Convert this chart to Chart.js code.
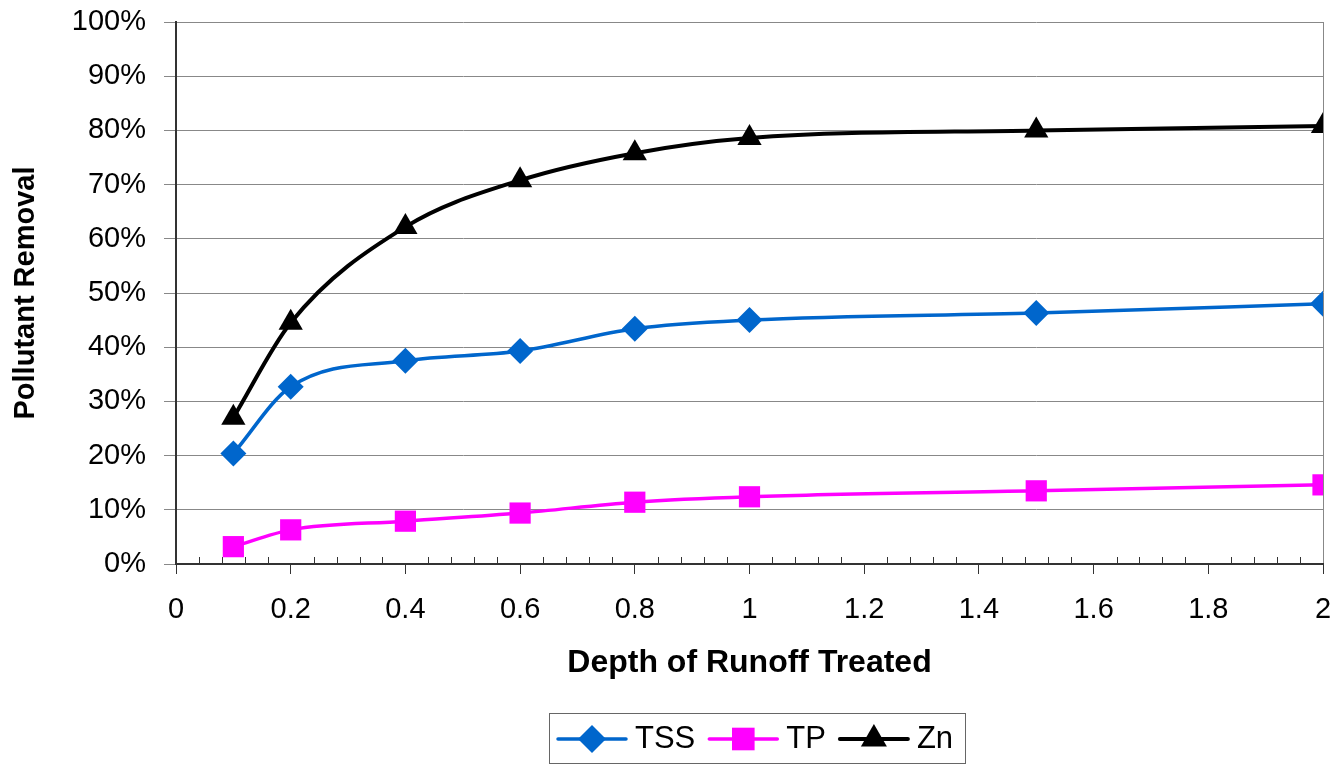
<!DOCTYPE html>
<html>
<head>
<meta charset="utf-8">
<script src="https://cdn.jsdelivr.net/npm/chart.js@4.4.1/dist/chart.umd.min.js"></script>
<style>
  html, body { margin: 0; padding: 0; background: #fff; }
  #wrap { width: 1344px; height: 768px; }
</style>
</head>
<body>
<div id="wrap"><canvas id="chart" width="1344" height="768"></canvas></div>
<script>
// depth of runoff treated (inches) and % removal per pollutant
const depths = [0.1, 0.2, 0.4, 0.6, 0.8, 1.0, 1.5, 2.0];
const tss = [20.4, 32.7, 37.5, 39.3, 43.4, 45.0, 46.3, 48.0];
const tp = [3.2, 6.3, 7.9, 9.4, 11.4, 12.4, 13.5, 14.6];
const zn = [27.0, 44.5, 62.2, 70.8, 75.8, 78.6, 80.0, 80.8];

const seriesNames = ['TSS', 'TP', 'Zn'];
const xTitle = 'Depth of Runoff Treated';
const yTitle = 'Pollutant Removal';

const FONT = '"Liberation Sans", Arial, sans-serif';

function toPoints(values) {
  return depths.map((d, i) => ({ x: d, y: values[i] }));
}

function makeSet(label, values, color, style, radius, width) {
  return {
    label,
    data: toPoints(values),
    borderColor: color,
    backgroundColor: color,
    borderWidth: width,
    pointStyle: style,
    pointRadius: radius,
    pointHoverRadius: radius,
    pointBorderWidth: 0,
    cubicInterpolationMode: 'monotone',
  };
}

function drawMarker(ctx, style, radius, x, y, color) {
  ctx.save();
  ctx.fillStyle = color;
  ctx.beginPath();
  if (style === 'rectRot') {
    ctx.moveTo(x - radius, y);
    ctx.lineTo(x, y - radius);
    ctx.lineTo(x + radius, y);
    ctx.lineTo(x, y + radius);
  } else if (style === 'rect') {
    const s = radius * Math.SQRT1_2;
    ctx.rect(x - s, y - s, 2 * s, 2 * s);
  } else {
    const h = radius * Math.sqrt(3) / 2;
    ctx.moveTo(x, y - radius);
    ctx.lineTo(x + h, y + radius / 2);
    ctx.lineTo(x - h, y + radius / 2);
  }
  ctx.closePath();
  ctx.fill();
  ctx.restore();
}

// small inside ticks between the labelled ones on the x axis
const minorTicks = {
  id: 'minorTicks',
  beforeDatasetsDraw(chart) {
    const { ctx, chartArea, scales: { x } } = chart;
    ctx.save();
    ctx.strokeStyle = '#333';
    ctx.lineWidth = 1;
    for (let i = 1; i < 50; i++) {
      if (i % 5 === 0) continue;
      const px = Math.round(x.getPixelForValue(i * 0.04)) + 0.5;
      ctx.beginPath();
      ctx.moveTo(px, chartArea.bottom);
      ctx.lineTo(px, chartArea.bottom - 7);
      ctx.stroke();
    }
    ctx.restore();
  }
};

// boxed legend with a line sample through each marker
const boxLegend = {
  id: 'boxLegend',
  afterDraw(chart) {
    const { ctx } = chart;
    const sets = chart.data.datasets;
    ctx.save();
    ctx.font = '31px ' + FONT;
    const lineLen = 68, gap = 9, after = 14, padL = 9, padR = 12;
    let total = padL + padR;
    sets.forEach((ds, i) => {
      total += lineLen + gap + ctx.measureText(ds.label).width + (i < sets.length - 1 ? after : 0);
    });
    const cx = chart.width / 2 + 85;
    const top = 713, bottom = 763;
    const left = Math.round(cx - total / 2);
    const midY = (top + bottom) / 2 + 1;
    ctx.strokeStyle = '#666';
    ctx.lineWidth = 1;
    ctx.strokeRect(left + 0.5, top + 0.5, Math.round(total), bottom - top);
    let xPos = left + padL;
    sets.forEach((ds, i) => {
      ctx.strokeStyle = ds.borderColor;
      ctx.lineWidth = ds.borderWidth;
      ctx.lineCap = 'round';
      ctx.beginPath();
      ctx.moveTo(xPos, midY);
      ctx.lineTo(xPos + lineLen, midY);
      ctx.stroke();
      drawMarker(ctx, ds.pointStyle, ds.pointRadius + 1, xPos + lineLen / 2, midY, ds.backgroundColor);
      xPos += lineLen + gap;
      ctx.fillStyle = '#000';
      ctx.textBaseline = 'middle';
      ctx.textAlign = 'left';
      ctx.fillText(ds.label, xPos, midY);
      xPos += ctx.measureText(ds.label).width + after;
    });
    ctx.restore();
  }
};

new Chart(document.getElementById('chart'), {
  type: 'line',
  data: {
    datasets: [
      makeSet(seriesNames[0], tss, '#0066cc', 'rectRot', 13, 3.5),
      makeSet(seriesNames[1], tp, '#ff00ff', 'rect', 15, 3.5),
      makeSet(seriesNames[2], zn, '#000000', 'triangle', 14, 4),
    ]
  },
  options: {
    responsive: false,
    animation: false,
    layout: { padding: { top: 22, right: 21, bottom: 86, left: 0 } },
    plugins: {
      legend: { display: false },
      tooltip: { enabled: false },
    },
    scales: {
      x: {
        type: 'linear',
        min: 0,
        max: 2,
        afterFit(scale) {
          scale.height = 118;
          scale.paddingLeft = 0;
          scale.paddingRight = 0;
        },
        ticks: {
          stepSize: 0.2,
          padding: 19,
          color: '#000',
          font: { family: FONT, size: 29 },
          callback: v => String(Math.round(v * 10) / 10),
        },
        grid: {
          drawTicks: true,
          tickLength: 10,
          tickColor: '#333',
          lineWidth: 1,
          color: c => (c.tick && Math.abs(c.tick.value - 2) < 1e-6) ? '#888' : 'rgba(0,0,0,0)',
        },
        border: { color: '#333', width: 2 },
        title: {
          display: true,
          text: xTitle,
          color: '#000',
          font: { family: FONT, size: 32, weight: 'bold' },
          padding: { top: 0, bottom: 0 },
        },
      },
      y: {
        min: 0,
        max: 100,
        afterFit(scale) {
          scale.width = 176;
          scale.paddingTop = 0;
          scale.paddingBottom = 0;
        },
        ticks: {
          stepSize: 10,
          padding: 18,
          color: '#000',
          font: { family: FONT, size: 29 },
          callback: v => v + '%',
        },
        grid: {
          color: '#888',
          lineWidth: 1,
          tickLength: 12,
          tickColor: '#888',
        },
        border: { color: '#333', width: 2 },
        title: {
          display: true,
          text: yTitle,
          color: '#000',
          font: { family: FONT, size: 29, weight: 'bold' },
          padding: { top: 9, bottom: 0 },
        },
      },
    },
  },
  plugins: [minorTicks, boxLegend],
});
</script>
</body>
</html>
